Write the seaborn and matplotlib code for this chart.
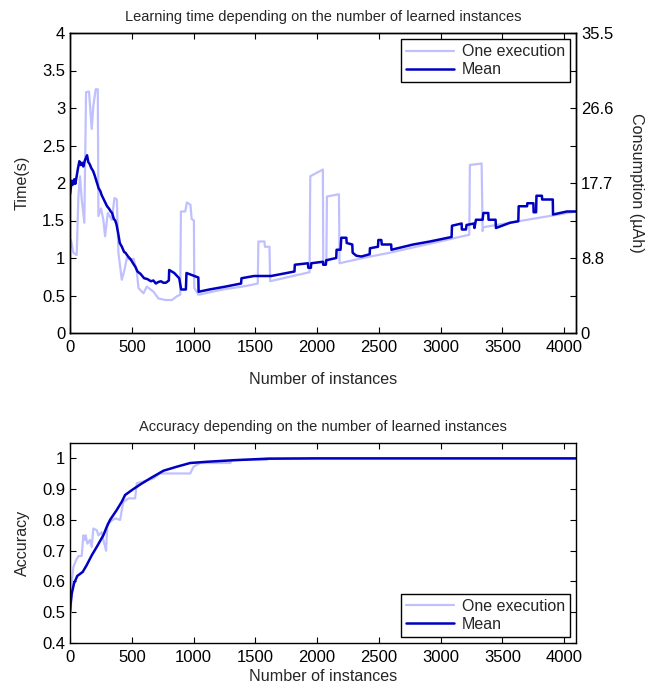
import numpy as np
import pandas as pd
import matplotlib
matplotlib.use("Agg")
import matplotlib.pyplot as plt
import seaborn as sns

# ---------------- data ----------------
# Top chart: learning time (s)
time_mean_x = [0, 8, 16, 25, 35, 43, 54, 65, 76, 86, 97, 108, 120, 138, 148, 160, 172, 187, 200,
               219, 232, 246, 256, 268, 280, 300, 315, 330, 341, 355, 366, 376, 390, 403, 420, 438,
               449, 470, 492, 510, 530, 546, 570, 600, 625, 655, 675, 695, 715, 736, 756, 776, 800,
               803, 844, 884, 900, 938, 943, 992, 1039, 1041,
               1128, 1263, 1385, 1388, 1490, 1628, 1817, 1820, 1926, 1929, 1950,
               1953, 2047, 2050, 2071, 2074, 2155, 2158, 2190, 2196, 2237, 2240, 2285, 2288, 2318,
               2358, 2426, 2428, 2493, 2496, 2520, 2524, 2600, 2602, 2778, 2913, 3089, 3092, 3170,
               3172, 3205, 3210, 3270, 3274, 3286, 3340, 3346, 3386, 3388, 3445, 3448, 3562, 3629,
               3632, 3700, 3702, 3751, 3753, 3773, 3776, 3820, 3822, 3908, 3910, 4022, 4096]
time_mean_y = [1.85, 1.95, 2.03, 1.98, 2.05, 1.99, 2.09, 2.20, 2.29, 2.24, 2.27, 2.22, 2.30, 2.37,
               2.28, 2.25, 2.20, 2.16, 2.10, 2.00, 1.93, 1.89, 1.84, 1.80, 1.76, 1.69, 1.66, 1.62,
               1.60, 1.52, 1.50, 1.45, 1.33, 1.20, 1.15, 1.08, 1.07, 1.02, 0.98, 0.93, 0.88, 0.82,
               0.79, 0.73, 0.72, 0.69, 0.70, 0.66, 0.68, 0.69, 0.67, 0.67, 0.70, 0.84, 0.80, 0.73,
               0.58, 0.58, 0.80, 0.77, 0.74, 0.55,
               0.58, 0.62, 0.66, 0.73, 0.76, 0.76,
               0.82, 0.91, 0.93, 0.87, 0.87, 0.93, 0.95, 0.91, 0.91, 0.97, 1.00, 1.11, 1.11, 1.27,
               1.27, 1.20, 1.18, 1.07, 1.03, 1.02, 1.05, 1.13, 1.15, 1.24, 1.24, 1.18, 1.18, 1.11,
               1.18, 1.22, 1.28, 1.43, 1.46, 1.38, 1.38, 1.44, 1.46, 1.40, 1.51, 1.51, 1.60, 1.60,
               1.51, 1.51, 1.40, 1.47, 1.49, 1.69, 1.69, 1.73, 1.73, 1.61, 1.61, 1.83, 1.83, 1.78,
               1.78, 1.58, 1.62, 1.62]

time_one_x = [0, 8, 27, 54, 68, 81, 95, 116, 130, 154, 176, 189, 208, 225, 230, 251, 270, 284,
              306, 338, 360, 379, 392, 419, 441, 460, 487, 514, 541, 554, 595, 622, 676, 716, 771,
              825, 866, 892, 898, 933, 946, 975, 985, 1003, 1006, 1040, 1236, 1398, 1466, 1520,
              1525, 1574, 1578, 1615, 1620, 1777, 1939, 1945, 2047, 2050, 2075, 2080, 2177, 2182,
              2372, 2588, 3232, 3237, 3332, 3340, 3345, 4096]
time_one_y = [1.11, 1.24, 1.07, 1.04, 1.82, 2.09, 1.78, 1.47, 3.21, 3.22, 2.72, 3.03, 3.25, 3.25,
              1.56, 1.66, 1.51, 1.29, 1.60, 1.51, 1.80, 1.78, 1.07, 0.71, 0.84, 1.00, 0.98, 0.99,
              0.82, 0.60, 0.53, 0.62, 0.55, 0.46, 0.44, 0.44, 0.49, 0.51, 1.62, 1.62, 1.74, 1.71,
              1.52, 1.50, 0.60, 0.51, 0.58, 0.62, 0.64, 0.66, 1.22, 1.22, 1.15, 1.15, 0.69, 0.75,
              0.81, 2.09, 2.18, 0.93, 0.95, 1.82, 1.85, 0.93, 1.00, 1.07, 1.31, 2.24, 2.26, 1.36,
              1.41, 1.62]

# Bottom chart: accuracy
acc_mean_x = [0, 5, 14, 32, 59, 103, 135, 176, 216, 270, 297, 324, 378, 419, 446, 508, 568, 649,
              757, 865, 973, 1109, 1324, 1595, 2000, 4096]
acc_mean_y = [0.50, 0.528, 0.56, 0.593, 0.618, 0.631, 0.653, 0.685, 0.712, 0.750, 0.777, 0.800,
              0.832, 0.859, 0.881, 0.899, 0.915, 0.935, 0.960, 0.973, 0.985, 0.989, 0.994, 0.999,
              1.0, 1.0]

acc_one_x = [0, 8, 16, 27, 49, 68, 95, 108, 122, 126, 141, 162, 176, 189, 216, 230, 257, 270, 292,
             303, 365, 406, 419, 433, 473, 527, 541, 595, 676, 730, 973, 1000, 1054, 1298, 1311,
             1595, 1608, 4096]
acc_one_y = [0.468, 0.517, 0.604, 0.647, 0.669, 0.682, 0.683, 0.750, 0.735, 0.750, 0.723, 0.735,
             0.712, 0.772, 0.767, 0.750, 0.760, 0.735, 0.700, 0.788, 0.805, 0.800, 0.832, 0.859,
             0.870, 0.870, 0.919, 0.925, 0.935, 0.951, 0.951, 0.973, 0.985, 0.985, 0.995, 0.995,
             1.0, 1.0]

left_ticks_top = [0, 0.5, 1, 1.5, 2, 2.5, 3, 3.5, 4]
left_ticklabels_top = ["0", "0.5", "1", "1.5", "2", "2.5", "3", "3.5", "4"]
right_ticklabels = ["0", "", "8.8", "", "17.7", "", "26.6", "", "35.5"]
x_ticks = [0, 500, 1000, 1500, 2000, 2500, 3000, 3500, 4000]
acc_ticks = [0.4, 0.5, 0.6, 0.7, 0.8, 0.9, 1.0]
acc_ticklabels = ["0.4", "0.5", "0.6", "0.7", "0.8", "0.9", "1"]

# ---------------- style ----------------
sns.set_style("ticks")
plt.rcParams["font.family"] = ["Liberation Sans", "DejaVu Sans"]
plt.rcParams["font.size"] = 11.5
plt.rcParams["axes.linewidth"] = 1.0
plt.rcParams["xtick.direction"] = "in"
plt.rcParams["ytick.direction"] = "in"
plt.rcParams["xtick.major.size"] = 4
plt.rcParams["ytick.major.size"] = 4
plt.rcParams["xtick.color"] = "black"
plt.rcParams["ytick.color"] = "black"
plt.rcParams["axes.edgecolor"] = "black"

LIGHT = "#c0c0ff"
DARK = "#0000c0"
TICK_FS = 12
LABEL_FS = 11.6
TITLE_FS = 10.5
LEG_FS = 11.5

fig = plt.figure(figsize=(6.48, 6.88), dpi=100)
ax1 = fig.add_axes([70 / 648, (688 - 333) / 688, 506 / 648, 300 / 688])
ax2 = fig.add_axes([70 / 648, (688 - 643) / 688, 506 / 648, 200 / 688])

# ---- top chart ----
df_one = pd.DataFrame({"x": time_one_x, "y": time_one_y})
df_mean = pd.DataFrame({"x": time_mean_x, "y": time_mean_y})
sns.lineplot(data=df_one, x="x", y="y", ax=ax1, color=LIGHT, lw=1.6, sort=False,
             estimator=None, label="One execution")
sns.lineplot(data=df_mean, x="x", y="y", ax=ax1, color=DARK, lw=1.8, sort=False,
             estimator=None, label="Mean")
ax1.set_xlim(0, 4096)
ax1.set_ylim(0, 4)
ax1.set_xticks(x_ticks)
ax1.set_yticks(left_ticks_top)
ax1.set_yticklabels(left_ticklabels_top)
ax1.tick_params(axis="x", top=True, bottom=True, labelsize=TICK_FS, pad=5)
ax1.tick_params(axis="y", left=True, right=False, labelsize=TICK_FS)
ax1.set_xlabel("Number of instances", fontsize=LABEL_FS, labelpad=12)
ax1.set_ylabel("Time(s)", fontsize=LABEL_FS, labelpad=9)
ax1.set_title("Learning time depending on the number of learned instances",
              fontsize=TITLE_FS, pad=9)
leg1 = ax1.legend(loc="upper right", fontsize=LEG_FS, frameon=True, fancybox=False,
                  edgecolor="black", framealpha=1, handlelength=3.0, borderaxespad=0.4,
                  borderpad=0.3, labelspacing=0.2, handletextpad=0.5)
leg1.get_frame().set_linewidth(1.0)

ax1r = ax1.twinx()
ax1r.set_ylim(0, 35.5)
ax1r.set_yticks(np.linspace(0, 35.5, 9))
ax1r.set_yticklabels(right_ticklabels)
ax1r.tick_params(axis="y", right=True, direction="in", labelsize=TICK_FS, length=4)
ax1r.set_ylabel("Consumption (µAh)", fontsize=LABEL_FS, rotation=270, labelpad=22)
for sp in ax1r.spines.values():
    sp.set_linewidth(1.0)

# ---- bottom chart ----
df_aone = pd.DataFrame({"x": acc_one_x, "y": acc_one_y})
df_amean = pd.DataFrame({"x": acc_mean_x, "y": acc_mean_y})
sns.lineplot(data=df_aone, x="x", y="y", ax=ax2, color=LIGHT, lw=1.6, sort=False,
             estimator=None, label="One execution")
sns.lineplot(data=df_amean, x="x", y="y", ax=ax2, color=DARK, lw=1.8, sort=False,
             estimator=None, label="Mean")
ax2.set_xlim(0, 4096)
ax2.set_ylim(0.4, 1.05)
ax2.set_xticks(x_ticks)
ax2.set_yticks(acc_ticks)
ax2.set_yticklabels(acc_ticklabels)
ax2.tick_params(axis="x", top=True, bottom=True, labelsize=TICK_FS, pad=5)
ax2.tick_params(axis="y", left=True, right=True, labelsize=TICK_FS)
ax2.set_xlabel("Number of instances", fontsize=LABEL_FS, labelpad=3)
ax2.set_ylabel("Accuracy", fontsize=LABEL_FS, labelpad=9)
ax2.set_title("Accuracy depending on the number of learned instances",
              fontsize=TITLE_FS, pad=9)
leg2 = ax2.legend(loc="lower right", fontsize=LEG_FS, frameon=True, fancybox=False,
                  edgecolor="black", framealpha=1, handlelength=3.0, borderaxespad=0.4,
                  borderpad=0.3, labelspacing=0.2, handletextpad=0.5)
leg2.get_frame().set_linewidth(1.0)

for ax in (ax1, ax2):
    for sp in ax.spines.values():
        sp.set_visible(True)
        sp.set_linewidth(1.0)

fig.savefig("out.png", dpi=100)
